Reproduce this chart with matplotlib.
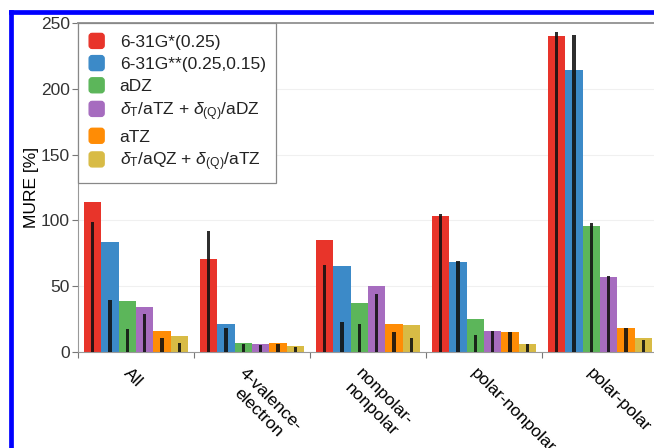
import numpy as np
import matplotlib.pyplot as plt
from matplotlib.patches import FancyBboxPatch, Patch
from matplotlib.lines import Line2D
from matplotlib.legend_handler import HandlerPatch
from matplotlib.transforms import ScaledTranslation

plt.rcParams['font.family'] = ['Liberation Sans', 'DejaVu Sans']
plt.rcParams['mathtext.fontset'] = 'custom'
plt.rcParams['mathtext.rm'] = 'Liberation Sans'
plt.rcParams['mathtext.it'] = 'Liberation Sans:italic'

categories = ['All', '4-valence-\nelectron', 'nonpolar-\nnonpolar',
              'polar-nonpolar', 'polar-polar']
methods = ['6-31G*(0.25)', '6-31G**(0.25,0.15)', 'aDZ',
           r'$\delta_\mathrm{T}$/aTZ + $\delta_{(\mathrm{Q})}$/aDZ', 'aTZ',
           r'$\delta_\mathrm{T}$/aQZ + $\delta_{(\mathrm{Q})}$/aTZ']
colors = ['#e8342a', '#3c8ac8', '#5cb65a', '#a66cbf', '#ff8c05', '#d8bb45']

# MURE per category (rows) and method (columns)
mure = np.array([
    [114.0, 83.5, 38.5, 34.5, 16.0, 12.0],
    [70.5, 21.0, 7.0, 6.0, 7.0, 4.8],
    [85.0, 65.5, 37.5, 50.5, 21.3, 20.8],
    [103.0, 68.5, 25.0, 16.0, 15.0, 6.3],
    [240.0, 214.0, 96.0, 57.0, 18.5, 11.0],
])
# second statistic drawn as thin black bars
inner = np.array([
    [99.0, 39.5, 17.5, 28.5, 10.5, 6.5],
    [92.0, 18.5, 5.8, 5.0, 6.0, 4.0],
    [66.0, 23.0, 21.0, 44.0, 15.5, 11.0],
    [105.0, 69.5, 13.0, 16.0, 15.0, 5.8],
    [243.5, 241.0, 98.0, 58.0, 18.0, 9.0],
])

fs = 12.5

fig = plt.figure(figsize=(6.54, 4.48), dpi=100)
ax = fig.add_axes([78 / 654, 96 / 448, 580 / 654, 329 / 448])

margin = 6 / 116
bw = (1 - 2 * margin) / len(methods)
idx = np.arange(len(categories))
for j, (m, c) in enumerate(zip(methods, colors)):
    x = idx + margin + (j + 0.5) * bw
    ax.bar(x, mure[:, j], width=bw, color=c, label=m, zorder=2)
    ax.bar(x, inner[:, j], width=0.027, color='#111111', alpha=0.88, zorder=3)

ax.set_xlim(0, len(categories))
ax.set_ylim(0, 250)
ax.set_yticks([0, 50, 100, 150, 200, 250])
ax.set_ylabel('MURE [%]', fontsize=fs, labelpad=1)
ax.yaxis.grid(True, color='#f0f0f0', lw=0.8, zorder=0)
ax.set_axisbelow(True)

ax.set_xticks(np.arange(len(categories) + 1))
ax.set_xticklabels([])
ax.set_xticks(idx + 0.5, minor=True)
ax.set_xticklabels(categories, minor=True, rotation=-45, ha='left', va='top',
                   rotation_mode='anchor', multialignment='center', fontsize=fs)
ax.tick_params(axis='x', which='minor', length=0, pad=10)
ax.tick_params(axis='both', which='major', length=4, width=0.8,
               color='#777777', labelsize=fs, labelcolor='#333333', pad=2)
off = ScaledTranslation(-5 / 100, 0, fig.dpi_scale_trans)
for lab in ax.get_xticklabels(minor=True):
    lab.set_transform(lab.get_transform() + off)

for side in ['left', 'bottom', 'top']:
    ax.spines[side].set_color('#999999')
    ax.spines[side].set_linewidth(0.8)
ax.spines['top'].set_linewidth(1.4)
ax.spines['right'].set_visible(False)


def rounded_square(legend, orig_handle, xdescent, ydescent, width, height, fontsize):
    s = min(width, height)
    return FancyBboxPatch((-xdescent + (width - s) / 2, -ydescent + (height - s) / 2),
                          s, s, boxstyle='round,pad=0,rounding_size=%f' % (s * 0.2))


handles = [Patch(color=c) for c in colors]
leg = ax.legend(handles, methods, loc='upper left', borderaxespad=0,
                fontsize=fs, frameon=True, fancybox=False, framealpha=1,
                edgecolor='#888888', handlelength=0.95, handleheight=0.95,
                labelspacing=0.33, handletextpad=0.85, borderpad=0.6,
                handler_map={Patch: HandlerPatch(patch_func=rounded_square)})
leg.get_frame().set_linewidth(0.9)
for t in leg.get_texts():
    t.set_color('#222222')

# blue frame lines along the left and top edges
fig.add_artist(Line2D([10.5 / 654, 10.5 / 654], [0, 436 / 448],
                      transform=fig.transFigure, color='#0000ff', lw=3.4,
                      solid_capstyle='projecting'))
fig.add_artist(Line2D([10.5 / 654, 1], [436 / 448, 436 / 448],
                      transform=fig.transFigure, color='#0000ff', lw=3.4,
                      solid_capstyle='projecting'))

fig.savefig('out.png', dpi=100)
